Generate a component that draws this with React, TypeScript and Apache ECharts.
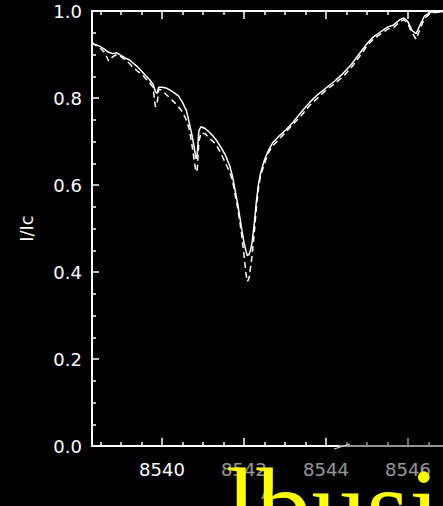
import React, { useEffect, useRef } from "react";
import * as echarts from "echarts";

// Wavelength grid (Å) and the two normalised intensity profiles (I/Ic)
const wavelengths = [
  8538.29, 8538.4, 8538.5, 8538.6, 8538.7, 8538.8, 8538.9, 8539.0, 8539.1, 8539.2,
  8539.3, 8539.4, 8539.5, 8539.6, 8539.7, 8539.78, 8539.84, 8539.88, 8539.92, 8540.0,
  8540.1, 8540.2, 8540.3, 8540.4, 8540.5, 8540.6, 8540.66, 8540.72, 8540.78, 8540.83,
  8540.86, 8540.9, 8540.95, 8541.05, 8541.15, 8541.25, 8541.35, 8541.45, 8541.55, 8541.65,
  8541.72, 8541.78, 8541.85, 8541.9, 8541.95, 8542.0, 8542.05, 8542.08, 8542.12, 8542.16,
  8542.2, 8542.25, 8542.3, 8542.35, 8542.4, 8542.5, 8542.6, 8542.7, 8542.85, 8543.0,
  8543.2, 8543.4, 8543.6, 8543.8, 8544.0, 8544.2, 8544.4, 8544.6, 8544.8, 8545.0,
  8545.15, 8545.3, 8545.5, 8545.65, 8545.8, 8545.9, 8546.0, 8546.1, 8546.2, 8546.28,
  8546.4, 8546.55, 8546.7, 8546.86,
];
const intensitySolid = [
  0.925, 0.922, 0.918, 0.912, 0.905, 0.902, 0.904, 0.898, 0.892, 0.888,
  0.88, 0.872, 0.862, 0.852, 0.842, 0.832, 0.815, 0.81, 0.825, 0.825,
  0.823, 0.818, 0.812, 0.805, 0.79, 0.77, 0.745, 0.72, 0.69, 0.66,
  0.672, 0.725, 0.734, 0.73, 0.722, 0.712, 0.7, 0.685, 0.668, 0.645,
  0.62, 0.59, 0.555, 0.525, 0.495, 0.468, 0.448, 0.438, 0.44, 0.45,
  0.47, 0.51, 0.56, 0.6, 0.625, 0.658, 0.68, 0.697, 0.712, 0.725,
  0.745, 0.768, 0.79, 0.808, 0.823, 0.838, 0.855, 0.875, 0.9, 0.925,
  0.94, 0.95, 0.963, 0.968, 0.98, 0.984, 0.975, 0.955, 0.948, 0.965,
  0.988, 0.997, 0.998, 0.998,
];
const intensityDashed = [
  0.928, 0.92, 0.914, 0.905, 0.885, 0.895, 0.9, 0.895, 0.888, 0.88,
  0.87, 0.862, 0.855, 0.845, 0.835, 0.825, 0.78, 0.785, 0.82, 0.818,
  0.808, 0.8, 0.79, 0.78, 0.768, 0.748, 0.73, 0.7, 0.66, 0.63,
  0.635, 0.7, 0.72, 0.718, 0.708, 0.7, 0.688, 0.67, 0.65, 0.63,
  0.61, 0.58, 0.545, 0.515, 0.48, 0.44, 0.395, 0.378, 0.385, 0.41,
  0.44, 0.49, 0.545, 0.59, 0.62, 0.65, 0.675, 0.69, 0.705, 0.72,
  0.74, 0.76, 0.783, 0.8, 0.818, 0.832, 0.848, 0.868, 0.893, 0.92,
  0.935, 0.945, 0.958, 0.962, 0.975, 0.98, 0.97, 0.95, 0.935, 0.955,
  0.983, 0.995, 0.997, 0.997,
];
const xMajorTicks = [8540, 8542, 8544, 8546];
const xMinorTicks = [
  8538.5, 8539, 8539.5, 8540.5, 8541, 8541.5, 8542.5, 8543, 8543.5, 8544.5, 8545, 8545.5, 8546.5,
];
const X_MIN = 8538.293;
const X_MAX = 8546.854;
const xAxisName = "Å";
const yAxisName = "I/Ic";
const watermarkText = "lbusi";

const FONT = "DejaVu Sans";

export default function App() {
  const ref = useRef<HTMLDivElement>(null);
  useEffect(() => {
    if (!ref.current) return;
    const chart = echarts.init(ref.current, null, { renderer: "svg" });
    const baseX = (position: string, extra: any) => ({
      type: "value",
      min: X_MIN,
      max: X_MAX,
      position,
      splitLine: { show: false },
      axisLine: { show: false, onZero: false },
      axisLabel: { show: false },
      axisTick: { show: false },
      ...extra,
    });
    const majorTick = (len: number) => ({
      show: true,
      inside: true,
      length: len,
      customValues: xMajorTicks,
      lineStyle: { color: "#fff", width: 1.5 },
    });
    const minorTick = (len: number) => ({
      show: true,
      inside: true,
      length: len,
      customValues: xMinorTicks,
      lineStyle: { color: "#fff", width: 1.5 },
    });
    chart.setOption({
      animation: false,
      backgroundColor: "#000",
      grid: { left: 92, right: 0, top: 11, bottom: 59, containLabel: false },
      xAxis: [
        baseX("bottom", {
          axisLine: { show: true, onZero: false, lineStyle: { color: "#fff", width: 2 } },
          axisTick: majorTick(8),
          axisLabel: {
            show: true,
            customValues: xMajorTicks,
            color: "#fff",
            fontSize: 18,
            fontFamily: FONT,
            margin: 14,
            formatter: (v: number) => String(Math.round(v)),
          },
          name: xAxisName,
          nameLocation: "middle",
          nameGap: 36,
          nameTextStyle: { color: "#fff", fontSize: 18, fontFamily: FONT },
        }),
        baseX("bottom", { axisTick: minorTick(4) }),
        baseX("top", {
          axisLine: { show: true, onZero: false, lineStyle: { color: "#fff", width: 2 } },
          axisTick: majorTick(8),
        }),
        baseX("top", { axisTick: minorTick(4) }),
      ],
      yAxis: {
        type: "value",
        min: 0,
        max: 1,
        interval: 0.2,
        splitLine: { show: false },
        axisLine: { show: true, lineStyle: { color: "#fff", width: 2 } },
        axisTick: { show: true, inside: true, length: 7, lineStyle: { color: "#fff", width: 1.5 } },
        minorTick: { show: true, splitNumber: 4, length: 4, lineStyle: { color: "#fff", width: 1.5 } },
        axisLabel: {
          color: "#fff",
          fontSize: 18,
          fontFamily: FONT,
          margin: 10,
          formatter: (v: number) => v.toFixed(1),
        },
        name: yAxisName,
        nameLocation: "middle",
        nameGap: 57,
        nameRotate: 90,
        nameTextStyle: { color: "#fff", fontSize: 18, fontFamily: FONT },
      },
      series: [
        {
          type: "line",
          xAxisIndex: 0,
          showSymbol: false,
          data: wavelengths.map((w, i) => [w, intensitySolid[i]]),
          lineStyle: { color: "#fff", width: 1.5 },
        },
        {
          type: "line",
          xAxisIndex: 0,
          showSymbol: false,
          data: wavelengths.map((w, i) => [w, intensityDashed[i]]),
          lineStyle: { color: "#fff", width: 1.5, type: [6, 4] },
        },
      ],
      graphic: [
        {
          type: "polygon",
          z: 100,
          shape: {
            points: [
              [205, 506],
              [205, 457],
              [338, 447.5],
              [345, 438],
              [443, 430],
              [443, 506],
            ],
          },
          style: { fill: "rgba(0,0,0,0.42)" },
        },
        {
          type: "line",
          z: 101,
          shape: { x1: 334, y1: 449, x2: 350, y2: 444 },
          style: { stroke: "#ddd", lineWidth: 1 },
        },
        {
          type: "text",
          z: 102,
          x: 226,
          y: 562,
          style: {
            text: watermarkText,
            font: '110px "Liberation Serif"',
            fill: "#ffff00",
            verticalAlign: "bottom",
          },
        },
      ],
    });
    return () => chart.dispose();
  }, []);
  return (
    <div
      ref={ref}
      style={{ position: "fixed", left: 0, top: 0, width: 443, height: 506 }}
    />
  );
}
